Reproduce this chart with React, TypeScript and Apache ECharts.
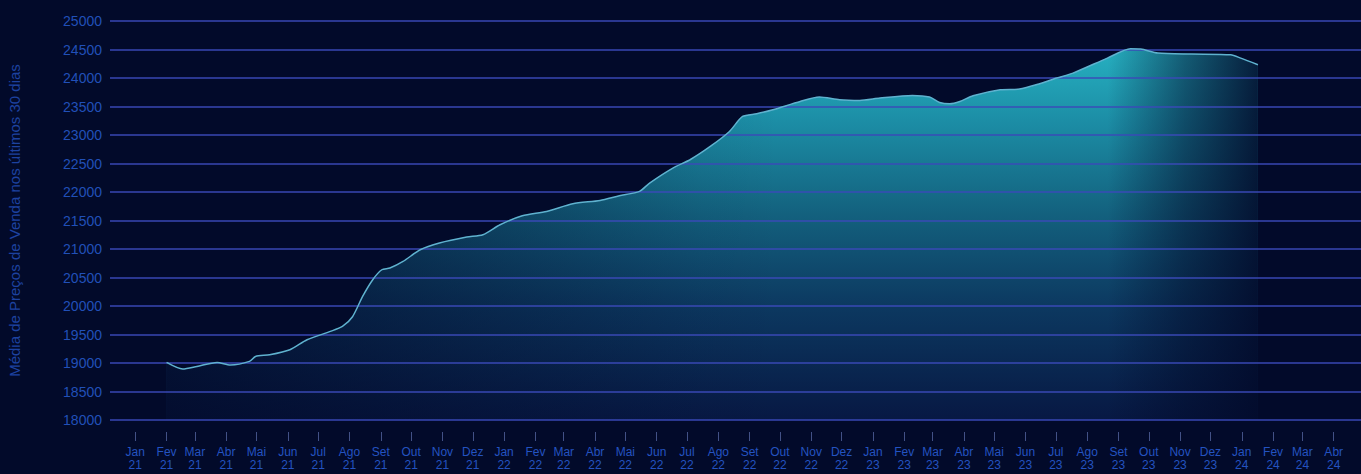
import React, { useEffect, useRef } from 'react';
import * as echarts from 'echarts';

const DATES = [
  '2021-02-01', '2021-02-17', '2021-03-03', '2021-03-23', '2021-04-05', '2021-04-24', '2021-04-30',
  '2021-05-14', '2021-06-03', '2021-06-20', '2021-07-13', '2021-07-25', '2021-08-04', '2021-08-14',
  '2021-08-24', '2021-09-02', '2021-09-10', '2021-09-23', '2021-10-10', '2021-10-29', '2021-11-25',
  '2021-12-11', '2021-12-28', '2022-01-19', '2022-02-12', '2022-03-10', '2022-04-06', '2022-04-25',
  '2022-05-15', '2022-05-25', '2022-06-17', '2022-07-04', '2022-07-24', '2022-08-12', '2022-08-25',
  '2022-09-08', '2022-09-24', '2022-10-21', '2022-11-09', '2022-11-29', '2022-12-19', '2023-01-08',
  '2023-02-09', '2023-02-26', '2023-03-08', '2023-03-18', '2023-03-28', '2023-04-10', '2023-05-07',
  '2023-05-26', '2023-06-15', '2023-07-02', '2023-07-18', '2023-08-21', '2023-09-13', '2023-09-23',
  '2023-10-10', '2023-11-12', '2023-12-21', '2023-12-31', '2024-01-17'
];

const VALUES = [
  19010, 18895, 18940, 19010, 18965, 19028, 19115,
  19145, 19233, 19408, 19554, 19642, 19812, 20168,
  20461, 20636, 20666, 20782, 20987, 21105, 21210,
  21250, 21425, 21583, 21659, 21794, 21852, 21934,
  22010, 22157, 22420, 22566, 22799, 23062, 23325,
  23373, 23443, 23588, 23665, 23618, 23606, 23648,
  23693, 23665, 23571, 23548, 23588, 23688, 23794,
  23806, 23899, 23999, 24086, 24349, 24513, 24507,
  24437, 24420, 24407, 24349, 24232
];

const Y_MIN = 18000;
const Y_MAX = 25000;
const Y_STEP = 500;
const X_MIN = '2020-12-07';
const X_MAX = '2024-04-28';
const MONTHS_PT = ['Jan', 'Fev', 'Mar', 'Abr', 'Mai', 'Jun', 'Jul', 'Ago', 'Set', 'Out', 'Nov', 'Dez'];
const Y_TITLE = 'Média de Preços de Venda nos últimos 30 dias';

const BG = '#020a2a';
const DAY = 86400000;
const FONT = 'Liberation Sans, Arial, sans-serif';

export default function App() {
  const ref = useRef<HTMLDivElement>(null);

  useEffect(() => {
    const chart = echarts.init(ref.current as HTMLDivElement, null, { renderer: 'svg' });
    const data = DATES.map((d, i) => [d, VALUES[i]]);

    chart.setOption({
      animation: false,
      backgroundColor: BG,
      grid: { left: 110, right: 0, top: 21, bottom: 54, outerBoundsMode: 'none', containLabel: false },
      xAxis: {
        type: 'time',
        min: X_MIN,
        max: X_MAX,
        offset: 12,
        minInterval: 28 * DAY,
        maxInterval: 31 * DAY,
        axisLine: { show: false },
        axisTick: { show: true, length: 9, lineStyle: { color: 'rgba(120,140,210,0.55)', width: 1 } },
        splitLine: { show: false },
        axisLabel: {
          color: '#2453c0',
          fontSize: 12,
          fontFamily: FONT,
          lineHeight: 13,
          margin: 13,
          showMinLabel: false,
          showMaxLabel: false,
          hideOverlap: false,
          formatter: (val: number) => {
            const d = new Date(val);
            if (d.getDate() !== 1) return '';
            const yy = String(d.getFullYear()).slice(2);
            return MONTHS_PT[d.getMonth()] + '\n' + yy;
          }
        }
      },
      yAxis: {
        type: 'value',
        min: Y_MIN,
        max: Y_MAX,
        interval: Y_STEP,
        z: 3,
        axisLine: { show: false },
        axisTick: { show: false },
        axisLabel: {
          color: '#2150b8',
          fontSize: 14,
          fontFamily: FONT,
          margin: 8,
          formatter: (v: number) => String(v)
        },
        splitLine: { lineStyle: { color: 'rgba(58,74,185,0.72)', width: 2 } },
        name: Y_TITLE,
        nameLocation: 'middle',
        nameGap: 88,
        nameRotate: 90,
        nameTextStyle: {
          color: '#1d42a0',
          fontSize: 15,
          fontFamily: FONT
        }
      },
      series: [
        {
          type: 'line',
          data,
          symbol: 'none',
          smooth: 0.25,
          z: 2,
          lineStyle: { width: 0 },
          areaStyle: {
            opacity: 1,
            color: {
              type: 'linear', x: 0, y: 45, x2: 0, y2: 420, global: true,
              colorStops: [
                { offset: 0, color: '#27b2c2' },
                { offset: 0.2, color: '#1c8ea6' },
                { offset: 0.45, color: '#13617e' },
                { offset: 0.7, color: '#0c3860' },
                { offset: 1, color: '#071843' }
              ]
            }
          }
        },
        {
          type: 'line',
          data,
          symbol: 'none',
          smooth: 0.25,
          z: 2,
          lineStyle: { width: 0 },
          areaStyle: {
            opacity: 1,
            color: {
              type: 'linear', x: 160, y: 0, x2: 1262, y2: 0, global: true,
              colorStops: [
                { offset: 0, color: 'rgba(2,10,42,0.8)' },
                { offset: 0.26, color: 'rgba(2,10,42,0.4)' },
                { offset: 0.49, color: 'rgba(2,10,42,0.06)' },
                { offset: 0.56, color: 'rgba(2,10,42,0)' },
                { offset: 0.86, color: 'rgba(2,10,42,0)' },
                { offset: 0.93, color: 'rgba(2,10,42,0.5)' },
                { offset: 1, color: 'rgba(2,10,42,0.9)' }
              ]
            }
          }
        },
        {
          type: 'line',
          data,
          symbol: 'none',
          smooth: 0.25,
          z: 4,
          lineStyle: { color: '#5fb2cf', width: 1.5 }
        }
      ]
    });

    return () => chart.dispose();
  }, []);

  return <div ref={ref} style={{ position: 'fixed', left: 0, top: 0, width: 1361, height: 474 }} />;
}
